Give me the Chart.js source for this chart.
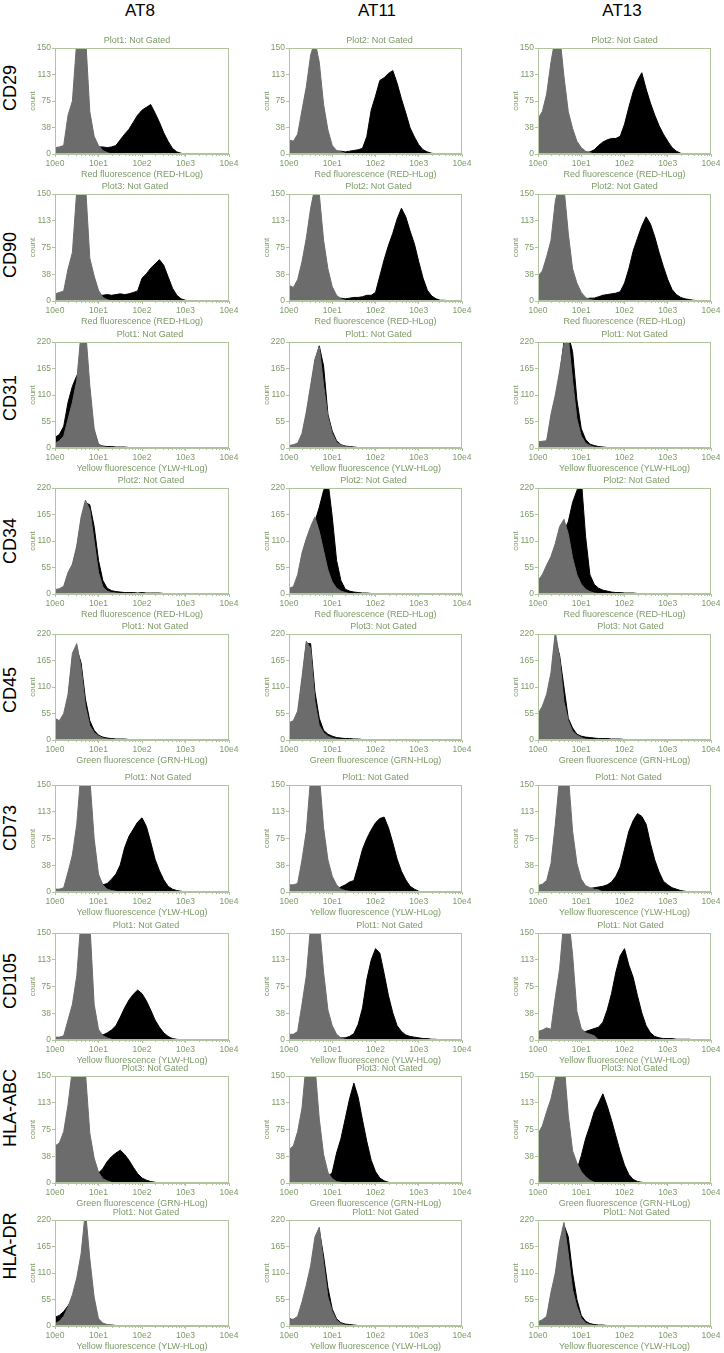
<!DOCTYPE html>
<html>
<head>
<meta charset="utf-8">
<script src="https://cdn.jsdelivr.net/npm/chart.js@4.4.1/dist/chart.umd.min.js"></script>
<style>
body { margin: 0; background: #fff; width: 724px; height: 1353px; position: relative; overflow: hidden; font-family: "Liberation Sans", Arial, sans-serif; }
canvas { position: absolute; }
.hd { position: absolute; font-size: 17px; color: #000; transform: translate(-50%, -50%); white-space: nowrap; }
.rl { position: absolute; font-size: 18px; color: #000; transform: translate(-50%, -50%) rotate(-90deg); white-space: nowrap; }
</style>
</head>
<body>
<script>
// labels
const samples = ['AT8', 'AT11', 'AT13'];
const markers = ['CD29', 'CD90', 'CD31', 'CD34', 'CD45', 'CD73', 'CD105', 'HLA-ABC', 'HLA-DR'];
const plotNames = [
  ['Plot1', 'Plot2', 'Plot2'],
  ['Plot3', 'Plot2', 'Plot2'],
  ['Plot1', 'Plot1', 'Plot1'],
  ['Plot2', 'Plot2', 'Plot2'],
  ['Plot1', 'Plot3', 'Plot3'],
  ['Plot1', 'Plot1', 'Plot1'],
  ['Plot1', 'Plot1', 'Plot1'],
  ['Plot3', 'Plot3', 'Plot3'],
  ['Plot1', 'Plot1', 'Plot1']
];
const RED = 'Red fluorescence (RED-HLog)';
const YLW = 'Yellow fluorescence (YLW-HLog)';
const GRN = 'Green fluorescence (GRN-HLog)';
const channelTitles = [RED, RED, YLW, RED, GRN, YLW, YLW, GRN, YLW];
const yMax = [150, 150, 220, 220, 220, 150, 150, 150, 220];
const yTicks150 = [0, 37.5, 75, 112.5, 150];
const yTicks220 = [0, 55, 110, 165, 220];
const xTicks = [1, 10, 100, 1000, 10000];
const xTickLabels = ['10e0', '10e1', '10e2', '10e3', '10e4'];

// counts per 0.1 decade starting at 10e0; iso = grey control, stain = black
const cd29_at8_iso = [9, 10, 12, 55, 75, 160, 180, 170, 60, 25, 12, 5, 2];
const cd29_at8_stain = [5, 6, 7, 8, 8, 8, 8, 8, 9, 10, 10, 10, 9, 10, 12, 20, 28, 35, 45, 55, 62, 66, 70, 58, 45, 30, 18, 8, 3, 1];
const cd29_at11_iso = [20, 18, 28, 62, 95, 140, 160, 130, 70, 34, 12, 5, 3, 1];
const cd29_at11_stain = [4, 4, 4, 4, 4, 4, 4, 4, 4, 4, 4, 4, 4, 3, 4, 5, 6, 8, 25, 62, 82, 104, 108, 114, 118, 100, 78, 58, 37, 24, 13, 6, 3, 1];
const cd29_at13_iso = [50, 60, 85, 130, 165, 170, 110, 60, 36, 18, 9, 4, 2];
const cd29_at13_stain = [2, 2, 2, 2, 2, 2, 2, 2, 2, 2, 2, 2, 3, 6, 12, 17, 20, 22, 22, 25, 42, 66, 88, 104, 115, 92, 72, 55, 40, 28, 18, 9, 4, 1];

const cd90_at8_iso = [10, 12, 14, 45, 68, 155, 170, 165, 60, 35, 15, 5, 2];
const cd90_at8_stain = [5, 5, 5, 5, 5, 5, 5, 5, 6, 7, 8, 8, 9, 8, 9, 10, 9, 10, 12, 14, 32, 38, 46, 52, 58, 50, 34, 18, 8, 3, 1];
const cd90_at11_iso = [22, 19, 30, 55, 88, 130, 160, 150, 85, 45, 20, 8, 3, 1];
const cd90_at11_stain = [3, 3, 3, 3, 3, 3, 3, 3, 3, 3, 3, 4, 4, 3, 4, 5, 5, 6, 8, 8, 12, 35, 58, 78, 95, 115, 130, 118, 98, 80, 55, 32, 15, 7, 3, 1, 1];
const cd90_at13_iso = [35, 42, 62, 85, 140, 165, 160, 95, 45, 25, 12, 5, 2, 1];
const cd90_at13_stain = [2, 2, 2, 2, 2, 2, 2, 2, 2, 2, 2, 3, 4, 4, 6, 8, 9, 10, 11, 13, 25, 45, 70, 88, 105, 118, 108, 90, 68, 48, 30, 16, 9, 5, 3, 2, 1];

const cd31_at8_iso = [10, 15, 25, 60, 95, 140, 240, 250, 130, 40, 8, 3, 1];
const cd31_at8_stain = [22, 28, 45, 95, 128, 150, 160, 140, 90, 35, 7, 4, 3, 3, 2, 2, 2, 1, 1, 1];
const cd31_at11_iso = [5, 7, 10, 30, 75, 130, 185, 210, 130, 65, 30, 12, 6, 3, 2, 1];
const cd31_at11_stain = [3, 5, 8, 25, 65, 120, 180, 212, 170, 70, 35, 15, 7, 4, 3, 2, 1];
const cd31_at13_iso = [13, 14, 15, 70, 110, 160, 215, 230, 140, 60, 25, 10, 5, 2, 1];
const cd31_at13_stain = [8, 10, 12, 55, 95, 150, 220, 235, 200, 100, 40, 18, 8, 5, 3, 2, 1];

const cd34_at8_iso = [9, 11, 16, 45, 62, 100, 160, 195, 175, 110, 45, 15, 6, 3, 2, 1];
const cd34_at8_stain = [6, 8, 12, 40, 58, 95, 150, 190, 185, 140, 70, 28, 12, 7, 5, 4, 3, 3, 3, 2, 3, 2, 2, 2, 2, 1, 1];
const cd34_at11_iso = [12, 15, 40, 85, 115, 140, 160, 130, 90, 50, 25, 12, 6, 3, 1];
const cd34_at11_stain = [8, 10, 30, 65, 100, 125, 150, 180, 215, 235, 160, 70, 28, 10, 6, 4, 3, 2, 2, 1, 1];
const cd34_at13_iso = [28, 40, 60, 78, 105, 140, 155, 125, 75, 40, 20, 10, 5, 2, 1];
const cd34_at13_stain = [20, 30, 45, 60, 85, 110, 130, 150, 190, 215, 240, 120, 40, 20, 12, 8, 6, 4, 3, 3, 2, 2, 2, 1, 1];

const cd45_at8_iso = [45, 40, 55, 95, 180, 200, 150, 70, 30, 15, 8, 4, 2, 1];
const cd45_at8_stain = [30, 30, 45, 85, 170, 190, 160, 85, 40, 20, 10, 6, 4, 3, 2, 2, 2, 1, 1, 1, 1];
const cd45_at11_iso = [36, 40, 60, 130, 205, 190, 80, 30, 15, 8, 4, 2, 1];
const cd45_at11_stain = [25, 30, 50, 120, 200, 200, 100, 45, 20, 12, 8, 5, 4, 3, 3, 2, 2, 1, 1];
const cd45_at13_iso = [55, 70, 95, 140, 225, 170, 80, 40, 18, 10, 5, 2, 1];
const cd45_at13_stain = [40, 55, 80, 120, 210, 175, 110, 45, 25, 12, 8, 6, 5, 4, 3, 3, 3, 2, 2, 2, 1, 1];

const cd73_at8_iso = [4, 4, 6, 28, 52, 95, 170, 180, 160, 75, 25, 10, 4, 2, 1];
const cd73_at8_stain = [3, 3, 3, 3, 3, 3, 3, 3, 3, 12, 12, 10, 12, 18, 25, 38, 62, 78, 88, 98, 104, 92, 70, 46, 30, 17, 8, 4, 2, 1];
const cd73_at11_iso = [10, 10, 12, 45, 85, 160, 175, 165, 90, 45, 22, 10, 4, 2, 1];
const cd73_at11_stain = [3, 3, 3, 3, 3, 3, 3, 3, 3, 3, 4, 5, 7, 10, 14, 16, 37, 60, 75, 87, 97, 103, 105, 90, 69, 46, 29, 17, 8, 4, 1];
const cd73_at13_iso = [9, 11, 16, 40, 95, 160, 175, 165, 85, 40, 18, 9, 6, 4, 3];
const cd73_at13_stain = [2, 2, 2, 2, 2, 2, 2, 2, 2, 2, 3, 4, 5, 6, 7, 8, 10, 14, 22, 35, 60, 85, 100, 110, 106, 95, 68, 45, 28, 15, 10, 6, 4, 2, 1];

const cd105_at8_iso = [4, 4, 6, 28, 50, 90, 170, 180, 165, 50, 15, 6, 3, 1];
const cd105_at8_stain = [3, 3, 3, 3, 3, 3, 3, 3, 3, 8, 10, 7, 10, 14, 20, 32, 45, 56, 64, 70, 65, 55, 42, 28, 18, 10, 5, 2, 1];
const cd105_at11_iso = [8, 8, 12, 50, 90, 160, 175, 165, 95, 42, 20, 8, 3, 1];
const cd105_at11_stain = [2, 2, 2, 2, 2, 2, 2, 2, 2, 2, 2, 2, 3, 3, 5, 9, 22, 45, 85, 112, 128, 122, 93, 62, 38, 20, 12, 7, 5, 4, 3, 2, 2, 1, 1];
const cd105_at13_iso = [12, 14, 17, 15, 60, 100, 170, 175, 120, 40, 16, 10, 8, 6];
const cd105_at13_stain = [5, 5, 5, 5, 5, 5, 5, 5, 5, 8, 12, 12, 14, 16, 18, 25, 42, 65, 95, 118, 128, 105, 88, 62, 38, 20, 10, 5, 3, 2, 2, 2, 1, 1, 1, 1];

const hlaabc_at8_iso = [52, 56, 72, 110, 160, 170, 165, 155, 70, 35, 15, 6, 3, 1];
const hlaabc_at8_stain = [20, 20, 25, 30, 30, 30, 25, 20, 15, 12, 14, 20, 30, 37, 42, 46, 40, 32, 22, 13, 7, 4, 2, 1];
const hlaabc_at11_iso = [47, 52, 72, 105, 170, 175, 165, 90, 40, 15, 6, 2, 1];
const hlaabc_at11_stain = [5, 5, 5, 5, 5, 5, 5, 5, 10, 8, 15, 42, 62, 90, 118, 140, 120, 88, 58, 32, 16, 7, 3, 1];
const hlaabc_at13_iso = [69, 80, 100, 118, 145, 180, 170, 95, 45, 28, 16, 9, 4, 1];
const hlaabc_at13_stain = [10, 10, 10, 10, 10, 10, 10, 10, 8, 18, 38, 62, 80, 100, 112, 125, 108, 88, 66, 44, 25, 12, 5, 2, 1];

const hladr_at8_iso = [5, 10, 20, 40, 65, 100, 150, 240, 140, 60, 15, 6, 3, 1];
const hladr_at8_stain = [18, 22, 30, 42, 55, 62, 70, 70, 60, 30, 10, 4, 2, 2, 1];
const hladr_at11_iso = [14, 14, 20, 50, 85, 125, 185, 205, 130, 60, 30, 12, 5, 2, 1];
const hladr_at11_stain = [16, 12, 15, 40, 70, 110, 170, 200, 145, 80, 35, 15, 7, 4, 3, 2, 1];
const hladr_at13_iso = [9, 13, 20, 70, 110, 175, 215, 150, 75, 40, 16, 6, 3, 1];
const hladr_at13_stain = [6, 9, 15, 60, 100, 165, 210, 185, 110, 55, 22, 10, 5, 3, 2, 2, 1];

const histograms = [
  [[cd29_at8_iso, cd29_at8_stain], [cd29_at11_iso, cd29_at11_stain], [cd29_at13_iso, cd29_at13_stain]],
  [[cd90_at8_iso, cd90_at8_stain], [cd90_at11_iso, cd90_at11_stain], [cd90_at13_iso, cd90_at13_stain]],
  [[cd31_at8_iso, cd31_at8_stain], [cd31_at11_iso, cd31_at11_stain], [cd31_at13_iso, cd31_at13_stain]],
  [[cd34_at8_iso, cd34_at8_stain], [cd34_at11_iso, cd34_at11_stain], [cd34_at13_iso, cd34_at13_stain]],
  [[cd45_at8_iso, cd45_at8_stain], [cd45_at11_iso, cd45_at11_stain], [cd45_at13_iso, cd45_at13_stain]],
  [[cd73_at8_iso, cd73_at8_stain], [cd73_at11_iso, cd73_at11_stain], [cd73_at13_iso, cd73_at13_stain]],
  [[cd105_at8_iso, cd105_at8_stain], [cd105_at11_iso, cd105_at11_stain], [cd105_at13_iso, cd105_at13_stain]],
  [[hlaabc_at8_iso, hlaabc_at8_stain], [hlaabc_at11_iso, hlaabc_at11_stain], [hlaabc_at13_iso, hlaabc_at13_stain]],
  [[hladr_at8_iso, hladr_at8_stain], [hladr_at11_iso, hladr_at11_stain], [hladr_at13_iso, hladr_at13_stain]]
];

// layout (pixels)
const colLeft = [55, 289, 538];
const colRight = [229, 462, 711];
const rowTop = [48, 194, 342, 488, 634, 785, 933, 1076, 1220];
const rowBottom = [154, 301, 448, 594, 740, 892, 1040, 1183, 1326];
const headerX = [140, 377, 622];
const markerY = [88, 255, 398, 541, 690, 828, 981, 1108, 1246];
const titleShift = [
  [-5, 4, 0], [-7, 3, 0], [8, 3, 10], [9, -2, 12], [13, 8, 6],
  [16, 0, 4], [4, 14, 6], [13, 14, 10], [4, 10, 12]
];

const GREY = '#6c6c6c';
const INK = '#000000';
const TEXT_GREEN = '#7c9a66';
const FRAME_GREEN = '#b0c59f';
const FONT = '"Liberation Sans", Arial, sans-serif';
const BINS = 41;
const binCentres = [];
for (let i = 0; i < BINS; i++) binCentres.push(Math.pow(10, i / 10));

function toPoints(counts) {
  const pts = [];
  for (let i = 0; i < BINS; i++) pts.push({x: binCentres[i], y: counts[i] || 0});
  return pts;
}

const framePlugin = {
  id: 'frame',
  afterDraw(chart, args, opts) {
    const {ctx, chartArea: a} = chart;
    const xs = chart.scales.x;
    ctx.save();
    ctx.strokeStyle = FRAME_GREEN;
    ctx.lineWidth = 1;
    ctx.strokeRect(a.left + 0.5, a.top + 0.5, a.right - a.left - 1, a.bottom - a.top - 1);
    ctx.beginPath();
    for (let d = 0; d < 4; d++) {
      for (let m = 2; m < 10; m++) {
        const px = Math.round(xs.getPixelForValue(m * Math.pow(10, d))) + 0.5;
        ctx.moveTo(px, a.bottom);
        ctx.lineTo(px, a.bottom + 2);
      }
    }
    ctx.stroke();
    ctx.fillStyle = TEXT_GREEN;
    ctx.font = '9px ' + FONT;
    ctx.textAlign = 'center';
    ctx.textBaseline = 'middle';
    ctx.fillText(opts.text, (a.left + a.right) / 2 + opts.dx, a.top - 7);
    ctx.restore();
  }
};

function addText(cls, text, x, y) {
  const d = document.createElement('div');
  d.className = cls;
  d.textContent = text;
  d.style.left = x + 'px';
  d.style.top = y + 'px';
  document.body.appendChild(d);
}

samples.forEach((s, c) => addText('hd', s, headerX[c], 11));
markers.forEach((m, r) => addText('rl', m, 10, markerY[r]));

function makePanel(r, c) {
  const L = colLeft[c], R = colRight[c], T = rowTop[r], B = rowBottom[r];
  const padTop = 14, axisW = 40, axisH = 26, padRight = 12;
  const canvas = document.createElement('canvas');
  const w = (R - L) + axisW + padRight;
  const h = (B - T) + padTop + axisH;
  canvas.width = w;
  canvas.height = h;
  canvas.style.left = (L - axisW) + 'px';
  canvas.style.top = (T - padTop) + 'px';
  document.body.appendChild(canvas);

  const [iso, stain] = histograms[r][c];
  const yTickVals = yMax[r] === 150 ? yTicks150 : yTicks220;

  new Chart(canvas, {
    type: 'line',
    data: {
      datasets: [
        {data: toPoints(iso), borderColor: GREY, backgroundColor: GREY, fill: 'origin', borderWidth: 1, pointRadius: 0, tension: 0},
        {data: toPoints(stain), borderColor: INK, backgroundColor: INK, fill: 'origin', borderWidth: 1, pointRadius: 0, tension: 0}
      ]
    },
    options: {
      responsive: false,
      maintainAspectRatio: false,
      animation: false,
      events: [],
      layout: {padding: {top: padTop, right: padRight, left: 0, bottom: 0}},
      plugins: {
        legend: {display: false},
        tooltip: {enabled: false},
        title: {display: false},
        frame: {text: plotNames[r][c] + ': Not Gated', dx: titleShift[r][c]}
      },
      scales: {
        x: {
          type: 'logarithmic',
          min: 1,
          max: 10000,
          afterBuildTicks: (s) => { s.ticks = xTicks.map(v => ({value: v})); },
          afterFit: (s) => { s.height = axisH; },
          ticks: {
            autoSkip: false, maxRotation: 0, padding: 2,
            color: TEXT_GREEN, font: {family: FONT, size: 8.5},
            callback: (v, i) => xTickLabels[i]
          },
          grid: {drawOnChartArea: false, drawTicks: true, tickLength: 3, color: FRAME_GREEN},
          border: {color: FRAME_GREEN},
          title: {display: true, text: channelTitles[r], color: TEXT_GREEN, font: {family: FONT, size: 9}, padding: {top: 0, bottom: 0}}
        },
        y: {
          min: 0,
          max: yMax[r],
          afterBuildTicks: (s) => { s.ticks = yTickVals.map(v => ({value: v})); },
          afterFit: (s) => { s.width = axisW; },
          ticks: {
            padding: 1, color: TEXT_GREEN, font: {family: FONT, size: 8.5},
            callback: (v) => String(Math.round(v))
          },
          grid: {drawOnChartArea: false, drawTicks: true, tickLength: 3, color: FRAME_GREEN},
          border: {color: FRAME_GREEN},
          title: {display: true, text: 'count', color: TEXT_GREEN, font: {family: FONT, size: 8}, padding: {top: 13, bottom: 0}}
        }
      }
    },
    plugins: [framePlugin]
  });
}

for (let r = 0; r < markers.length; r++) {
  for (let c = 0; c < samples.length; c++) makePanel(r, c);
}
</script>
</body>
</html>
